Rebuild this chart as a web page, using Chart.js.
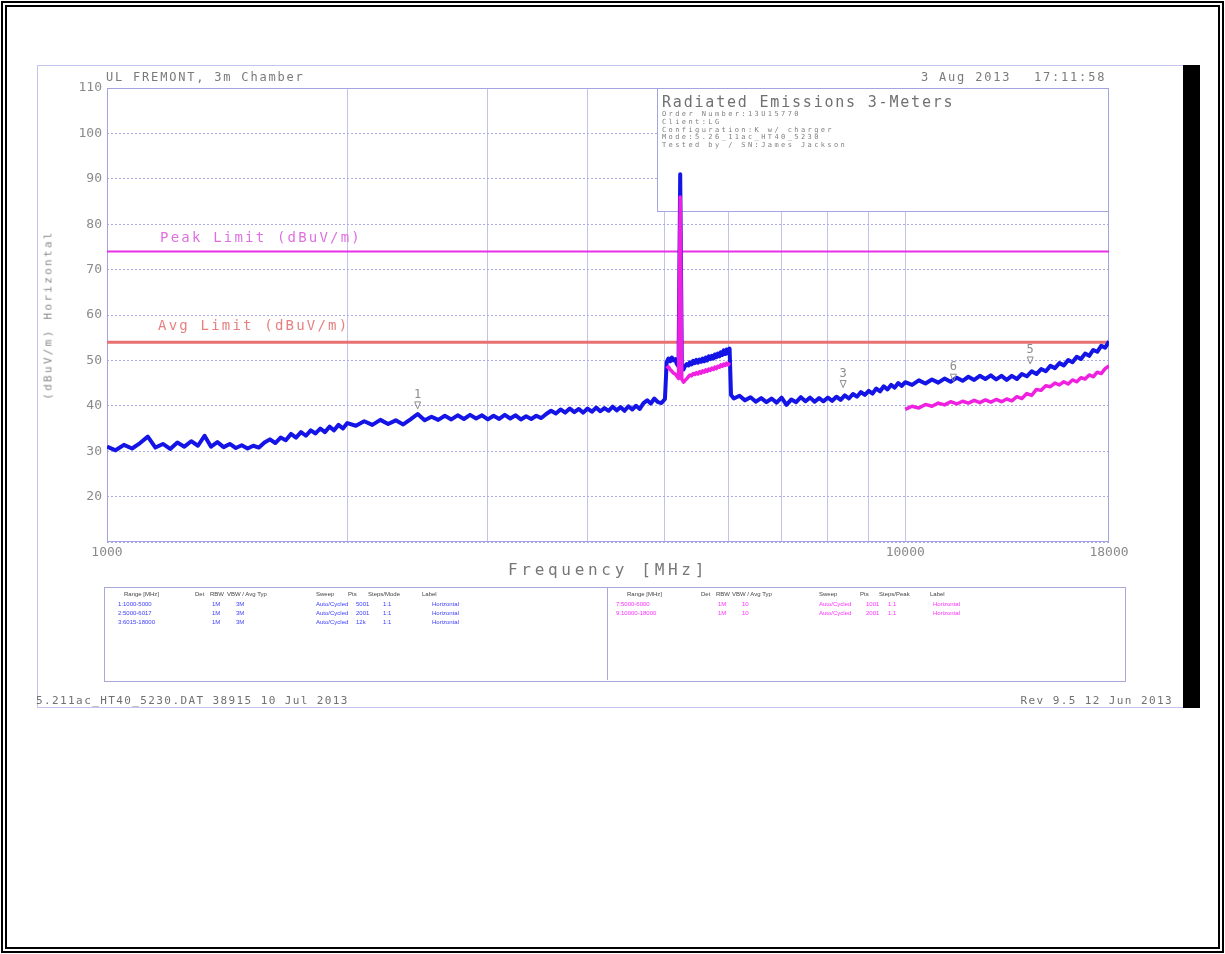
<!DOCTYPE html>
<html>
<head>
<meta charset="utf-8">
<title>Radiated Emissions 3-Meters</title>
<script src="https://cdn.jsdelivr.net/npm/chart.js@4.4.1/dist/chart.umd.min.js"></script>
<style>
  html, body { margin: 0; padding: 0; background: #fff; }
  body { width: 1225px; height: 954px; position: relative; overflow: hidden; font-family: "DejaVu Sans Mono", monospace; }
  .frame { position: absolute; left: 1px; top: 1px; width: 1211px; height: 940px; border: 6px double #000; }
  .shot { position: absolute; left: 37px; top: 65px; width: 1145px; height: 641px; border: 1px solid #c4c4ee; }
  .bar { position: absolute; left: 1183px; top: 65px; width: 17px; height: 643px; background: #000; }
  #wrap { position: absolute; left: 0; top: 0; width: 1225px; height: 954px; }
  .t { position: absolute; white-space: pre; color: #7a7a7a; z-index: 2; pointer-events: none; }
  .tbl { position: absolute; border: 1px solid #a8a8dc; }
  .s { position: absolute; white-space: pre; font-family: "Liberation Sans", sans-serif; font-size: 6px; line-height: 7px; z-index: 2; }
  .h { color: #444; }
  .b { color: #3c3cff; }
  .m { color: #ff30ff; }
</style>
</head>
<body>
<div class="frame"></div>
<div class="shot"></div>
<div class="bar"></div>

<div id="wrap"><canvas id="emiChart" width="1225" height="954"></canvas></div>

<div class="t" style="left:106px; top:70px; font-size:12px; letter-spacing:1.8px;">UL FREMONT, 3m Chamber</div>
<div class="t" style="left:921px; top:70px; font-size:12px; letter-spacing:1.8px;">3 Aug 2013</div>
<div class="t" style="left:1034px; top:70px; font-size:12px; letter-spacing:1.8px;">17:11:58</div>

<div class="t" style="left:662px; top:93px; font-size:15px; letter-spacing:1.8px; color:#707070;">Radiated Emissions 3-Meters</div>
<div class="t" style="left:662px; top:111px; font-size:7px; line-height:7.8px; letter-spacing:2.4px; color:#808080;">Order Number:13U15770
Client:LG
Configuration:K w/ charger
Mode:5.26_11ac_HT40_5230
Tested by / SN:James Jackson</div>

<div class="t" style="left:160px; top:229px; font-size:14px; letter-spacing:2.2px; color:#e070e0;">Peak Limit (dBuV/m)</div>
<div class="t" style="left:158px; top:317px; font-size:14px; letter-spacing:2.2px; color:#e88080;">Avg Limit (dBuV/m)</div>

<div class="t" style="left:48px; top:315px; font-size:11px; letter-spacing:2.3px; transform:translate(-50%,-50%) rotate(-90deg); color:#8a8a8a;">(dBuV/m) Horizontal</div>
<div class="t" style="left:608px; top:569px; font-size:16px; letter-spacing:3.7px; transform:translate(-50%,-50%); color:#777;">Frequency [MHz]</div>

<div class="tbl" style="left:104px; top:587px; width:1020px; height:93px;"></div>
<div class="tbl" style="left:607px; top:587px; width:0; height:93px; border-width:0 0 0 1px;"></div>

<span class="s h" style="left:124px; top:591px;">Range [MHz]</span>
<span class="s h" style="left:195px; top:591px;">Det</span>
<span class="s h" style="left:210px; top:591px;">RBW</span>
<span class="s h" style="left:227px; top:591px;">VBW / Avg Typ</span>
<span class="s h" style="left:316px; top:591px;">Sweep</span>
<span class="s h" style="left:348px; top:591px;">Pts</span>
<span class="s h" style="left:368px; top:591px;">Steps/Mode</span>
<span class="s h" style="left:422px; top:591px;">Label</span>

<span class="s b" style="left:118px; top:601px;">1:1000-5000</span>
<span class="s b" style="left:212px; top:601px;">1M</span>
<span class="s b" style="left:236px; top:601px;">3M</span>
<span class="s b" style="left:316px; top:601px;">Auto/Cycled</span>
<span class="s b" style="left:356px; top:601px;">5001</span>
<span class="s b" style="left:383px; top:601px;">1:1</span>
<span class="s b" style="left:432px; top:601px;">Horizontal</span>

<span class="s b" style="left:118px; top:610px;">2:5000-6017</span>
<span class="s b" style="left:212px; top:610px;">1M</span>
<span class="s b" style="left:236px; top:610px;">3M</span>
<span class="s b" style="left:316px; top:610px;">Auto/Cycled</span>
<span class="s b" style="left:356px; top:610px;">2001</span>
<span class="s b" style="left:383px; top:610px;">1:1</span>
<span class="s b" style="left:432px; top:610px;">Horizontal</span>

<span class="s b" style="left:118px; top:619px;">3:6015-18000</span>
<span class="s b" style="left:212px; top:619px;">1M</span>
<span class="s b" style="left:236px; top:619px;">3M</span>
<span class="s b" style="left:316px; top:619px;">Auto/Cycled</span>
<span class="s b" style="left:356px; top:619px;">12k</span>
<span class="s b" style="left:383px; top:619px;">1:1</span>
<span class="s b" style="left:432px; top:619px;">Horizontal</span>

<span class="s h" style="left:627px; top:591px;">Range [MHz]</span>
<span class="s h" style="left:701px; top:591px;">Det</span>
<span class="s h" style="left:716px; top:591px;">RBW</span>
<span class="s h" style="left:732px; top:591px;">VBW / Avg Typ</span>
<span class="s h" style="left:819px; top:591px;">Sweep</span>
<span class="s h" style="left:860px; top:591px;">Pts</span>
<span class="s h" style="left:879px; top:591px;">Steps/Peak</span>
<span class="s h" style="left:930px; top:591px;">Label</span>

<span class="s m" style="left:616px; top:601px;">7:5000-6000</span>
<span class="s m" style="left:718px; top:601px;">1M</span>
<span class="s m" style="left:742px; top:601px;">10</span>
<span class="s m" style="left:819px; top:601px;">Auto/Cycled</span>
<span class="s m" style="left:866px; top:601px;">1001</span>
<span class="s m" style="left:888px; top:601px;">1:1</span>
<span class="s m" style="left:933px; top:601px;">Horizontal</span>

<span class="s m" style="left:616px; top:610px;">9:10000-18000</span>
<span class="s m" style="left:718px; top:610px;">1M</span>
<span class="s m" style="left:742px; top:610px;">10</span>
<span class="s m" style="left:819px; top:610px;">Auto/Cycled</span>
<span class="s m" style="left:866px; top:610px;">2001</span>
<span class="s m" style="left:888px; top:610px;">1:1</span>
<span class="s m" style="left:933px; top:610px;">Horizontal</span>

<div class="t" style="left:36px; top:694px; font-size:11px; letter-spacing:1.4px; color:#707070;">5.211ac_HT40_5230.DAT 38915 10 Jul 2013</div>
<div class="t" style="right:52px; top:694px; font-size:11px; letter-spacing:1.4px; color:#707070;">Rev 9.5 12 Jun 2013</div>

<script>
// frequency axis (MHz), log scale
const xGridTicks = [1000, 2000, 3000, 4000, 5000, 6000, 7000, 8000, 9000, 10000, 18000];
const xLabelTicks = [1000, 10000, 18000];
const yTicks = [10, 20, 30, 40, 50, 60, 70, 80, 90, 100, 110];

// peak trace (blue) per sweep band: start MHz, step MHz, levels dBuV/m
const peakStarts = [1000, 2050, 5025, 6100, 10200];
const peakSteps = [25, 50, 25, 100, 200];
const peakBand1 = [31.0, 30.2, 31.4, 30.6, 31.8, 33.2, 30.8, 31.6, 30.5, 31.9,
                   31.0, 32.2, 31.2, 33.4, 31.0, 32.0, 30.9, 31.6, 30.7, 31.3,
                   30.6, 31.2, 30.8, 31.9, 32.6, 31.8, 33.0, 32.4, 33.8, 33.0,
                   34.2, 33.4, 34.6, 33.9, 35.0, 34.2, 35.4, 34.6, 35.8, 35.0, 36.2];
const peakBand2 = [35.6, 36.6, 35.8, 36.9, 36.0, 36.8, 35.9, 37.0, 38.2, 36.8,
                   37.6, 36.9, 37.8, 37.0, 37.9, 37.1, 38.0, 37.2, 37.9, 37.0,
                   37.8, 37.1, 38.0, 37.2, 37.9, 37.0, 37.7, 37.1, 37.8, 37.3,
                   38.2, 38.9, 38.3, 39.2, 38.5, 39.4, 38.6, 39.3, 38.5, 39.4,
                   38.7, 39.6, 38.8, 39.5, 38.9, 39.8, 39.0, 39.7, 38.9, 39.9,
                   39.2, 40.0, 39.3, 40.6, 41.2, 40.5, 41.6, 40.8, 40.6, 41.5];
const peakBand3 = [49.6, 50.4, 49.8, 50.6, 50.0, 50.3, 49.2, 48.6, 91.0, 48.4,
                   48.0, 48.8, 49.2, 48.9, 49.6, 49.1, 49.9, 49.4, 50.1, 49.5,
                   50.2, 49.7, 50.4, 49.8, 50.6, 50.0, 50.9, 50.3, 51.0, 50.4,
                   51.3, 50.7, 51.5, 50.9, 51.8, 51.2, 52.2, 51.4, 52.4, 51.6,
                   52.6, 42.4];
const peakBand4 = [41.6, 42.2, 41.2, 41.9, 40.9, 41.7, 40.8, 41.6, 40.7, 41.8,
                   40.2, 41.4, 40.8, 41.9, 41.0, 41.8, 40.9, 41.7, 41.0, 41.8,
                   41.1, 42.0, 41.3, 42.3, 41.6, 42.6, 42.0, 43.0, 42.4, 43.3,
                   42.7, 43.8, 43.2, 44.3, 43.6, 44.6, 44.0, 45.0, 44.4, 45.2];
const peakBand5 = [44.6, 45.6, 44.9, 45.8, 45.1, 46.0, 45.3, 46.2, 45.5, 46.4,
                   45.7, 46.6, 45.9, 46.7, 45.8, 46.6, 45.7, 46.6, 45.9, 47.0,
                   46.5, 47.6, 47.0, 48.1, 47.6, 48.8, 48.3, 49.4, 48.9, 50.1,
                   49.6, 50.8, 50.3, 51.5, 51.0, 52.3, 51.9, 53.2, 52.8, 54.2];

// average trace (magenta), two separate bands
const avgStarts = [5025, 10000];
const avgSteps = [25, 200];
const avgBand1 = [48.2, 48.6, 48.0, 47.6, 47.2, 47.0, 46.5, 46.0, 86.0, 45.8,
                  45.2, 45.6, 46.0, 46.4, 46.8, 46.6, 47.1, 46.9, 47.3, 47.0,
                  47.5, 47.2, 47.7, 47.4, 47.9, 47.6, 48.1, 47.8, 48.3, 48.0,
                  48.5, 48.2, 48.7, 48.5, 49.0, 48.7, 49.2, 48.9, 49.4, 49.0, 49.5];
const avgBand2 = [39.2, 39.9, 39.5, 40.3, 39.9, 40.6, 40.2, 40.9, 40.4, 41.0,
                  40.6, 41.2, 40.7, 41.3, 40.8, 41.4, 40.9, 41.5, 41.1, 42.0,
                  41.6, 42.7, 42.3, 43.6, 43.4, 44.4, 44.2, 45.0, 44.6, 45.3,
                  44.8, 45.7, 45.3, 46.2, 45.9, 46.8, 46.4, 47.4, 47.1, 48.2, 48.8];

// limit lines
const limitFreqs = [1000, 18000];
const peakLimit = [74, 74];
const avgLimit = [54, 54];

// numbered markers
const markerIds = ['1', '3', '6', '5'];
const markerFreqs = [2450, 8360, 11490, 14340];
const markerLevels = [39.1, 43.8, 45.2, 49.0];

// gapped = true leaves a break between bands instead of joining them
function sweep(starts, steps, bands, gapped) {
    const pts = [];
    bands.forEach((levels, b) => {
        if (gapped && b > 0) pts.push({ x: starts[b] - 1, y: null });
        levels.forEach((v, i) => pts.push({ x: starts[b] + i * steps[b], y: v }));
    });
    return pts;
}

function line(freqs, levels) {
    return freqs.map((f, i) => ({ x: f, y: levels[i] }));
}

const chartDecor = {
    id: 'chartDecor',
    beforeDatasetsDraw(chart) {
        const { ctx, chartArea: a } = chart;
        ctx.save();
        ctx.strokeStyle = '#a4a4e2';
        ctx.lineWidth = 1;
        ctx.strokeRect(a.left + 0.5, a.top + 0.5, a.width - 1, a.height - 1);
        // header box in the top right corner of the plot
        ctx.fillStyle = '#fff';
        ctx.fillRect(a.right - 452, a.top, 452, 124);
        ctx.strokeRect(a.right - 452 + 0.5, a.top + 0.5, 451, 123);
        ctx.restore();
    },
    afterDatasetsDraw(chart) {
        const { ctx, scales } = chart;
        ctx.save();
        ctx.strokeStyle = '#8c8c8c';
        ctx.fillStyle = '#8c8c8c';
        ctx.lineWidth = 1;
        ctx.font = '12px "DejaVu Sans Mono"';
        ctx.textAlign = 'center';
        ctx.textBaseline = 'bottom';
        markerIds.forEach((id, i) => {
            const px = scales.x.getPixelForValue(markerFreqs[i]);
            const py = scales.y.getPixelForValue(markerLevels[i]);
            ctx.beginPath();
            ctx.moveTo(px - 3, py - 8);
            ctx.lineTo(px + 3, py - 8);
            ctx.lineTo(px, py - 1);
            ctx.closePath();
            ctx.stroke();
            ctx.fillText(id, px, py - 9);
        });
        ctx.restore();
    }
};

Chart.defaults.font.family = '"DejaVu Sans Mono", monospace';

const ctx = document.getElementById('emiChart').getContext('2d');
new Chart(ctx, {
    type: 'line',
    data: {
        datasets: [
            {
                label: 'Average',
                data: sweep(avgStarts, avgSteps, [avgBand1, avgBand2], true),
                borderColor: '#f020e0',
                borderWidth: 3.5,
                spanGaps: false,
                order: 0
            },
            {
                label: 'Peak',
                data: sweep(peakStarts, peakSteps, [peakBand1, peakBand2, peakBand3, peakBand4, peakBand5], false),
                borderColor: '#1414e6',
                borderWidth: 4,
                order: 1
            },
            {
                label: 'Peak Limit (dBuV/m)',
                data: line(limitFreqs, peakLimit),
                borderColor: '#e830e8',
                borderWidth: 2,
                order: 2
            },
            {
                label: 'Avg Limit (dBuV/m)',
                data: line(limitFreqs, avgLimit),
                borderColor: '#e87070',
                borderWidth: 3,
                order: 3
            }
        ]
    },
    options: {
        responsive: false,
        animation: false,
        events: [],
        layout: { padding: { left: 37, top: 88, right: 116, bottom: 388 } },
        elements: {
            point: { radius: 0 },
            line: { tension: 0, borderJoinStyle: 'round' }
        },
        plugins: {
            legend: { display: false },
            tooltip: { enabled: false }
        },
        scales: {
            x: {
                type: 'logarithmic',
                min: 1000,
                max: 18000,
                afterBuildTicks: scale => { scale.ticks = xGridTicks.map(v => ({ value: v })); },
                afterFit: scale => { scale.height = 24; },
                ticks: {
                    autoSkip: false,
                    maxRotation: 0,
                    padding: 3,
                    color: '#8a8a8a',
                    font: { size: 13 },
                    callback: v => xLabelTicks.includes(v) ? String(v) : ''
                },
                grid: {
                    drawTicks: false,
                    color: c => (c.tick && c.tick.value === 18000) ? 'rgba(0,0,0,0)' : '#c2c2ea'
                },
                border: { display: false }
            },
            y: {
                type: 'linear',
                min: 10,
                max: 110,
                afterBuildTicks: scale => { scale.ticks = yTicks.map(v => ({ value: v })); },
                afterFit: scale => { scale.width = 70; },
                ticks: {
                    padding: 5,
                    color: '#8a8a8a',
                    font: { size: 13 },
                    callback: v => v === 10 ? '' : String(v)
                },
                grid: { drawTicks: false, color: '#aaaae4' },
                border: { display: false, dash: [2, 2] }
            }
        }
    },
    plugins: [chartDecor]
});
</script>
</body>
</html>
